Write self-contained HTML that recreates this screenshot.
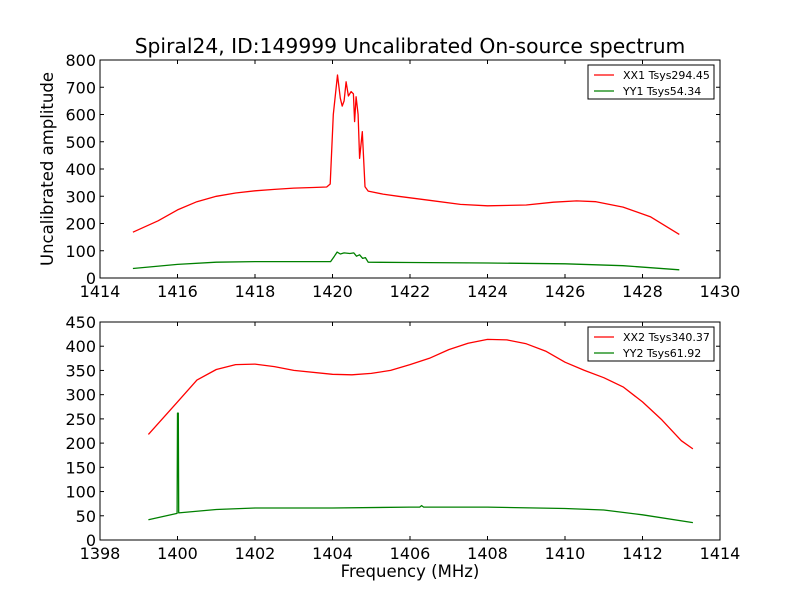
<!DOCTYPE html>
<html><head><meta charset="utf-8"><style>
body{margin:0;background:#fff;}
svg{display:block;font-family:"DejaVu Sans","Liberation Sans",sans-serif;}
</style></head><body>
<svg id="chart" width="800" height="600" viewBox="0 0 800 600">
<rect width="800" height="600" fill="#fff"/>
<text x="410" y="53" text-anchor="middle" font-size="20.3">Spiral24, ID:149999 Uncalibrated On-source spectrum</text>
<g id="top"></g>
<g id="bot"></g>
<text x="53" y="169" text-anchor="middle" font-size="16.5" transform="rotate(-90 53 169)">Uncalibrated amplitude</text>
<text x="410" y="577" text-anchor="middle" font-size="16.5">Frequency (MHz)</text>
</svg>
<script>
const topXX1Freq=[1414.85,1415.5,1416,1416.5,1417,1417.5,1418,1418.5,1419,1419.5,1419.85,1419.94,1420.02,1420.13,1420.2,1420.25,1420.3,1420.35,1420.41,1420.48,1420.54,1420.57,1420.61,1420.66,1420.70,1420.77,1420.84,1420.92,1421.3,1421.7,1422.5,1423.3,1424,1425,1425.7,1426.3,1426.8,1427.5,1428.2,1428.95];
const topXX1Vals=[168,210,250,280,300,312,320,325,330,332,334,345,600,745,660,631,650,720,668,684,676,574,665,600,439,537,335,319,308,300,285,270,265,268,278,283,280,260,225,160];
const topYY1Freq=[1414.85,1416,1417,1418,1419,1419.95,1420.05,1420.12,1420.2,1420.3,1420.45,1420.55,1420.62,1420.7,1420.78,1420.85,1420.92,1422,1424,1426,1427.5,1428.95];
const topYY1Vals=[35,50,58,60,60,60,80,95,88,92,90,92,80,85,72,75,58,57,55,52,45,30];
const botXX2Freq=[1399.25,1400,1400.5,1401,1401.5,1402,1402.5,1403,1404,1404.5,1405,1405.5,1406,1406.5,1407,1407.5,1408,1408.5,1409,1409.5,1410,1410.5,1411,1411.5,1412,1412.5,1413,1413.3];
const botXX2Vals=[218,285,330,352,362,363,358,350,342,341,344,350,362,375,393,406,414,413,405,390,367,350,335,316,285,248,205,188];
const botYY2Freq=[1399.25,1399.99,1400.0,1400.02,1400.03,1401,1402,1404,1406,1406.25,1406.3,1406.35,1408,1410,1411,1412,1413.3];
const botYY2Vals=[42,55,262,262,56,63,66,66,68,68,71,68,68,65,62,52,36];
const topXTicks=[1414,1416,1418,1420,1422,1424,1426,1428,1430];
const topYTicks=[0,100,200,300,400,500,600,700,800];
const botXTicks=[1398,1400,1402,1404,1406,1408,1410,1412,1414];
const botYTicks=[0,50,100,150,200,250,300,350,400,450];
const topLegend=["XX1 Tsys294.45","YY1 Tsys54.34"];
const botLegend=["XX2 Tsys340.37","YY2 Tsys61.92"];
const NS="http://www.w3.org/2000/svg";
function mk(p,t,a){const e=document.createElementNS(NS,t);for(const k in a)e.setAttribute(k,a[k]);p.appendChild(e);return e;}
function panel(g,x0,x1,y0,y1,xmin,xmax,ymin,ymax,xt,yt,series,legend){
  const X=v=>x0+(v-xmin)/(xmax-xmin)*(x1-x0);
  const Y=v=>y1-(v-ymin)/(ymax-ymin)*(y1-y0);
  series.forEach((s,i)=>{
    const pts=s.f.map((f,j)=>X(f).toFixed(1)+","+Y(s.v[j]).toFixed(1)).join(" ");
    const l=mk(g,"polyline",{points:pts,fill:"none",stroke:s.c,"stroke-width":1.3,"stroke-linejoin":"round"});
    
    
  });
  const fr=mk(g,"rect",{x:x0,y:y0,width:x1-x0,height:y1-y0,fill:"none",stroke:"#000","stroke-width":1});
  
  
  xt.forEach(t=>{const x=X(t);
    mk(g,"line",{x1:x,x2:x,y1:y1,y2:y1-4,stroke:"#000"});
    mk(g,"line",{x1:x,x2:x,y1:y0,y2:y0+4,stroke:"#000"});
    const tx=mk(g,"text",{x:x,y:y1+19,"text-anchor":"middle","font-size":16});tx.textContent=t;
    
    
  });
  yt.forEach(t=>{const y=Y(t);
    mk(g,"line",{x1:x0,x2:x0+4,y1:y,y2:y,stroke:"#000"});
    mk(g,"line",{x1:x1,x2:x1-4,y1:y,y2:y,stroke:"#000"});
    const tx=mk(g,"text",{x:x0-4,y:y+6,"text-anchor":"end","font-size":16});tx.textContent=t;
    
    
  });
  const lg=mk(g,"g",{});
  
  
  mk(lg,"rect",{x:x1-132,y:y0+5,width:126,height:34,fill:"#fff",stroke:"#000"});
  legend.forEach((t,i)=>{const y=y0+15+i*16;
    mk(lg,"line",{x1:x1-126,x2:x1-106,y1:y,y2:y,stroke:series[i].c,"stroke-width":1.3});
    const tx=mk(lg,"text",{x:x1-97,y:y+4,"font-size":11});tx.textContent=t;
    
    
  });
}
panel(document.getElementById("top"),100,720,60,278,1414,1430,0,800,topXTicks,topYTicks,
 [{f:topXX1Freq,v:topXX1Vals,c:"#ff0000",n:"xx1-line"},{f:topYY1Freq,v:topYY1Vals,c:"#008000",n:"yy1-line"}],topLegend);
panel(document.getElementById("bot"),100,720,322,540,1398,1414,0,450,botXTicks,botYTicks,
 [{f:botXX2Freq,v:botXX2Vals,c:"#ff0000",n:"xx2-line"},{f:botYY2Freq,v:botYY2Vals,c:"#008000",n:"yy2-line"}],botLegend);
</script>
</body></html>
